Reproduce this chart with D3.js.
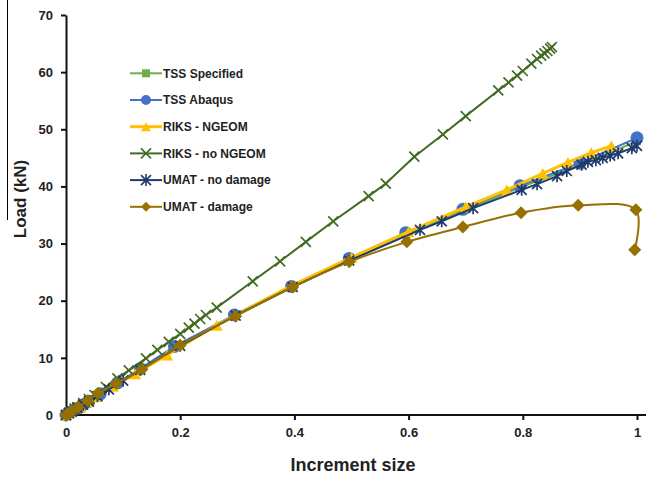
<!doctype html>
<html>
    <head>
        <script src="https://d3js.org/d3.v7.min.js"></script>
        <style>
            body { margin: 0; background: #fff; }
            text { font-family: "Liberation Sans", Arial, sans-serif; font-weight: bold; fill: #222; }
            .axis path.domain { stroke: #111; stroke-width: 2; }
            .axis line { stroke: #111; stroke-width: 2; }
        </style>
    </head>
    <body>
        <svg id="chart" width="647" height="479"></svg>

        <script>
            // tick values / labels
            var xTicks = [0, 0.2, 0.4, 0.6, 0.8, 1];
            var xTickLabels = ["0", "0.2", "0.4", "0.6", "0.8", "1"];
            var yTicks = [0, 10, 20, 30, 40, 50, 60, 70];

            var seriesNames = ["TSS Specified", "TSS Abaqus", "RIKS - NGEOM", "RIKS - no NGEOM", "UMAT - no damage", "UMAT - damage"];

            // [increment size, load kN]
            var tssSpecified = [[0,0],[0.01,0.6],[0.02,1.2],[0.03,1.8],[0.04,2.4],[0.06,3.7],[0.09,5.5],[0.13,8.0],
                [0.19,11.9],[0.295,17.4],[0.395,22.4],[0.496,27.2],[0.595,31.6],[0.695,35.7],[0.795,39.8],[0.9,43.7],[1.0,47.9]];
            var tssAbaqus = [[0,0],[0.01,0.6],[0.02,1.2],[0.03,1.8],[0.04,2.4],[0.06,3.7],[0.09,5.6],[0.13,8.1],
                [0.19,12.0],[0.295,17.5],[0.395,22.5],[0.496,27.4],[0.595,31.9],[0.695,36.0],[0.795,40.1],[0.9,44.1],[1.0,48.5]];
            var riksNgeom = [[0,0],[0.01,0.6],[0.025,1.4],[0.04,2.3],[0.054,3.2],[0.082,5.0],[0.121,7.2],[0.177,10.5],
                [0.264,15.7],[0.396,22.7],[0.5,27.6],[0.6,32.1],[0.7,36.4],[0.772,39.4],[0.835,42.3],[0.879,44.2],[0.92,45.9],[0.955,47.1]];
            var riksNoNgeom = [[0,0],[0.005,0.4],[0.01,0.7],[0.015,1.1],[0.02,1.4],[0.03,2.1],[0.04,2.8],[0.05,3.5],[0.07,4.9],
                [0.09,6.4],[0.11,7.8],[0.14,9.9],[0.16,11.4],[0.18,12.8],[0.2,14.2],[0.215,15.3],[0.225,16.0],[0.235,16.8],
                [0.245,17.5],[0.264,18.8],[0.327,23.4],[0.375,26.9],[0.42,30.3],[0.468,33.9],[0.53,38.3],[0.56,40.5],
                [0.61,45.2],[0.66,49.1],[0.7,52.3],[0.757,56.8],[0.775,58.2],[0.79,59.4],[0.8,60.2],[0.815,61.5],
                [0.825,62.3],[0.832,62.9],[0.838,63.3],[0.843,63.7],[0.848,64.1],[0.851,64.4]];
            var umatNoDamage = [[0,0],[0.005,0.3],[0.01,0.6],[0.02,1.2],[0.03,1.8],[0.04,2.4],[0.055,3.3],[0.075,4.5],
                [0.1,6.0],[0.13,7.9],[0.2,12.1],[0.297,17.4],[0.397,22.4],[0.496,27.0],[0.62,32.4],[0.658,33.9],
                [0.713,36.2],[0.798,39.4],[0.825,40.4],[0.86,41.8],[0.877,42.7],[0.903,43.8],[0.914,44.3],[0.928,44.6],
                [0.94,45.0],[0.953,45.4],[0.967,45.8],[0.991,46.7],[1.0,47.1]];
            var umatDamage = [[0,0],[0.005,0.3],[0.01,0.6],[0.021,1.4],[0.038,2.5],[0.056,3.8],[0.088,5.5],[0.133,8.0],
                [0.2,12.2],[0.297,17.3],[0.397,22.4],[0.496,26.8],[0.597,30.3],[0.695,32.9],[0.797,35.4],[0.897,36.7],
                [0.998,35.9],[0.996,28.9]];

            var svg = d3.select("#chart");
            var x = d3.scaleLinear().domain([0, 1]).range([66, 637]);
            var y = d3.scaleLinear().domain([0, 70]).range([415, 15]);

            // stray line at top-left edge of the source image
            svg.append("line").attr("x1", 7.5).attr("x2", 7.5).attr("y1", 0).attr("y2", 220)
                .attr("stroke", "#000").attr("stroke-width", 1);

            var xAxis = svg.append("g").attr("class", "axis").attr("transform", "translate(0,415)")
                .call(d3.axisBottom(x).tickValues(xTicks).tickSize(5).tickSizeOuter(0).tickPadding(8)
                    .tickFormat((d, i) => xTickLabels[i]));
            xAxis.select("path.domain").attr("d", "M66,0H646");
            xAxis.selectAll("text").style("font-size", "13px").attr("fill", "#222");

            var yAxis = svg.append("g").attr("class", "axis").attr("transform", "translate(66,0)")
                .call(d3.axisLeft(y).tickValues(yTicks).tickSize(5).tickSizeOuter(0).tickPadding(8));
            yAxis.selectAll("text").style("font-size", "13px").attr("fill", "#222");

            svg.append("text").attr("x", 353).attr("y", 471).attr("text-anchor", "middle")
                .style("font-size", "18px").text("Increment size");
            svg.append("text").attr("transform", "translate(26,199) rotate(-90)").attr("text-anchor", "middle")
                .style("font-size", "17px").text("Load (kN)");

            // marker shapes
            var markers = {
                square: function (s) { return d3.symbol(d3.symbolSquare, s * s)(); },
                circle: function (s) { return d3.symbol(d3.symbolCircle, Math.PI * s * s / 4)(); },
                triangle: function (s) { var h = s * 0.9; return "M0," + (-h / 2) + "L" + (s / 2) + "," + (h / 2) + "L" + (-s / 2) + "," + (h / 2) + "Z"; },
                diamond: function (s) { var r = s / 2; return "M0," + (-r) + "L" + r + ",0L0," + r + "L" + (-r) + ",0Z"; },
                cross: function (s) { var r = s / 2; return "M" + (-r) + "," + (-r) + "L" + r + "," + r + "M" + (-r) + "," + r + "L" + r + "," + (-r); },
                star: function (s) { var r = s / 2; return "M" + (-r) + "," + (-r) + "L" + r + "," + r + "M" + (-r) + "," + r + "L" + r + "," + (-r) + "M0," + (-r * 1.2) + "L0," + (r * 1.2); }
            };

            var series = [
                { name: seriesNames[0], data: tssSpecified, color: "#70ad47", marker: "square", size: 8, fill: true, width: 2, curve: d3.curveLinear },
                { name: seriesNames[1], data: tssAbaqus, color: "#4472c4", marker: "circle", size: 13, fill: true, width: 2, curve: d3.curveLinear },
                { name: seriesNames[2], data: riksNgeom, color: "#ffc000", marker: "triangle", size: 12, fill: true, width: 3, curve: d3.curveLinear },
                { name: seriesNames[3], data: riksNoNgeom, color: "#426b22", marker: "cross", size: 10, fill: false, width: 2, curve: d3.curveLinear },
                { name: seriesNames[4], data: umatNoDamage, color: "#1f3a6e", marker: "star", size: 10, fill: false, width: 2, curve: d3.curveLinear },
                { name: seriesNames[5], data: umatDamage, color: "#967000", marker: "diamond", size: 13, fill: true, width: 2, curve: d3.curveCatmullRom.alpha(0.5) }
            ];

            series.forEach(function (s) {
                var g = svg.append("g");
                var line = d3.line().x(d => x(d[0])).y(d => y(d[1])).curve(s.curve);
                g.append("path").datum(s.data).attr("d", line)
                    .attr("fill", "none").attr("stroke", s.color).attr("stroke-width", s.width)
                    .attr("stroke-linejoin", "round");
                g.selectAll("path.mk").data(s.data).enter().append("path").attr("class", "mk")
                    .attr("transform", d => "translate(" + x(d[0]) + "," + y(d[1]) + ")")
                    .attr("d", markers[s.marker](s.size))
                    .attr("fill", s.fill ? s.color : "none")
                    .attr("stroke", s.color).attr("stroke-width", s.fill ? 0 : 1.7);
            });

            // legend
            var legend = svg.append("g");
            series.forEach(function (s, i) {
                var ly = 73.3 + i * 26.7;
                legend.append("line").attr("x1", 130).attr("x2", 162).attr("y1", ly).attr("y2", ly)
                    .attr("stroke", s.color).attr("stroke-width", s.width);
                legend.append("path").attr("transform", "translate(146," + ly + ")")
                    .attr("d", markers[s.marker](Math.min(s.size, 10)))
                    .attr("fill", s.fill ? s.color : "none")
                    .attr("stroke", s.color).attr("stroke-width", s.fill ? 0 : 1.6);
                legend.append("text").attr("x", 163).attr("y", ly).attr("dy", "0.35em")
                    .style("font-size", "12px").text(s.name);
            });
        </script>
    </body>
</html>
